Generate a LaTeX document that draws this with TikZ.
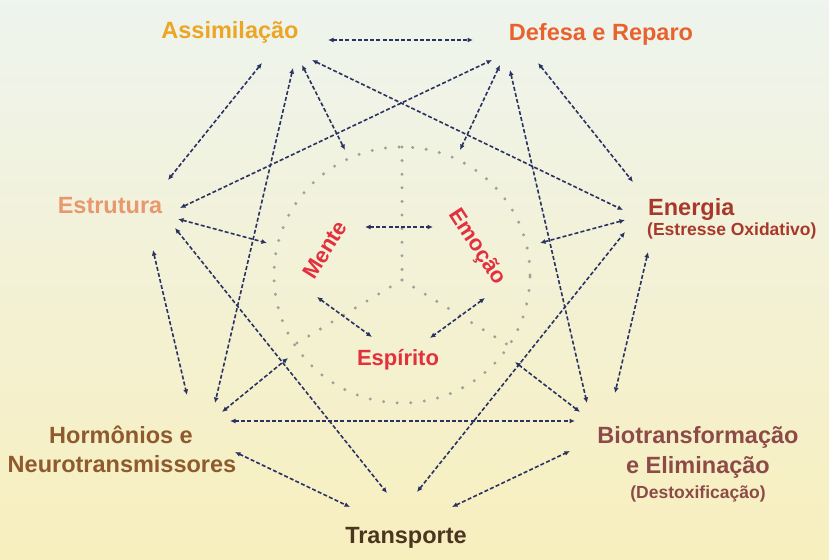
\documentclass[tikz,border=0pt]{standalone}
\usepackage{fontspec}
\setmainfont{Liberation Sans}
\usetikzlibrary{arrows.meta}
\definecolor{bgtop}{HTML}{EEF4EE}
\definecolor{bgmid}{HTML}{F2F3DE}
\definecolor{bgbot}{HTML}{F8EFBE}
\definecolor{navy}{HTML}{2A3262}
\definecolor{dotgray}{HTML}{9EA09A}
\definecolor{cA}{HTML}{EBA626}
\definecolor{cD}{HTML}{E8622F}
\definecolor{cS}{HTML}{E8986E}
\definecolor{cE}{HTML}{A8392A}
\definecolor{cH}{HTML}{8E5A2E}
\definecolor{cT}{HTML}{4A3620}
\definecolor{cB}{HTML}{8C4B48}
\definecolor{cIn}{HTML}{E2303E}
\begin{document}
\begin{tikzpicture}[x=1pt,y=-1pt,
  conn/.style={draw=navy, line width=1.6pt, dash pattern=on 4pt off 2.2pt,
    {Latex[length=5.5pt,width=5pt]}-{Latex[length=5.5pt,width=5pt]}},
  dots/.style={draw=dotgray, line width=3.3pt, line cap=round, dash pattern=on 0pt off 13.6pt},
  big/.style={font=\bfseries\fontsize{23.5}{26}\selectfont, anchor=base, inner sep=0pt},
  small/.style={font=\bfseries\fontsize{17.5}{20}\selectfont, anchor=base, inner sep=0pt},
  inner/.style={font=\bfseries\fontsize{22}{24}\selectfont, text=cIn, inner sep=0pt}]
\useasboundingbox (0,0) rectangle (829,559);
\shade[top color=bgtop, middle color=bgmid, bottom color=bgbot] (0,0) rectangle (829,559);

% dotted ring and Y
\node[circle, minimum size=256pt, inner sep=0pt, dots] (ring) at (402,275) {};
\coordinate (yc) at (402,280);
\coordinate (ytop) at (402,147);
\coordinate (yl) at (292,346);
\coordinate (yr) at (513,348);
\draw[dots] (ytop) -- (yc);
\draw[dots] (yc) -- (yl);
\draw[dots] (yc) -- (yr);

% labels
\node[big, text=cA] (A) at (230,39) {Assimilação};
\node[big, text=cD] (D) at (601,41) {Defesa e Reparo};
\node[big, text=cS] (S) at (110,213) {Estrutura};
\node[big, text=cE, anchor=base west] (E) at (648,215) {Energia};
\node[small, text=cE, anchor=base west] (E2) at (647,235) {(Estresse Oxidativo)};
\node[big, text=cH] (H) at (121,443) {Hormônios e};
\node[big, text=cH] (H2) at (122,472) {Neurotransmissores};
\node[big, text=cT] (T) at (406,543) {Transporte};
\node[big, text=cB] (B) at (698,443) {Biotransformação};
\node[big, text=cB] (B2) at (698,473) {e Eliminação};
\node[small, text=cB] (B3) at (698,498) {(Destoxificação)};
\node[inner, rotate=58] (Mn) at (325,250) {Mente};
\node[inner, rotate=-57] (Em) at (477,247) {Emoção};
\node[inner, anchor=base] (Es) at (398,365) {Espírito};

% connector ends
\coordinate (A1) at (328,40);  \coordinate (D1) at (473,40);
\coordinate (A2) at (262,63);  \coordinate (S1) at (168,180);
\coordinate (A3) at (293,68);  \coordinate (H1) at (215,403);
\coordinate (A4) at (302,65);  \coordinate (cA) at (345,150);
\coordinate (A5) at (312,60);  \coordinate (E1) at (623,210);
\coordinate (S2) at (180,208); \coordinate (D2) at (492,60);
\coordinate (S3) at (178,219); \coordinate (cS) at (267,243);
\coordinate (S4) at (175,228); \coordinate (T1) at (387,493);
\coordinate (S5) at (153,250); \coordinate (H2p) at (187,395);
\coordinate (H3) at (222,412); \coordinate (cH) at (288,358);
\coordinate (H4) at (230,421); \coordinate (B1) at (575,421);
\coordinate (H5) at (235,452); \coordinate (T2) at (350,507);
\coordinate (T3) at (452,507); \coordinate (B2p) at (570,451);
\coordinate (T4) at (417,492); \coordinate (E2p) at (625,232);
\coordinate (D3) at (500,65);  \coordinate (cD) at (460,150);
\coordinate (D4) at (510,70);  \coordinate (B3p) at (587,403);
\coordinate (D5) at (538,63);  \coordinate (E3) at (633,182);
\coordinate (E4) at (625,220); \coordinate (cE) at (540,243);
\coordinate (E5) at (648,252); \coordinate (B4) at (615,393);
\coordinate (B5) at (580,412); \coordinate (cB) at (515,362);
\coordinate (m1) at (365,227); \coordinate (e1) at (433,227);
\coordinate (m2) at (317,297); \coordinate (s1) at (372,337);
\coordinate (e2) at (485,298); \coordinate (s2) at (430,338);

\draw[conn] (A1) -- (D1);
\draw[conn] (A2) -- (S1);
\draw[conn] (A3) -- (H1);
\draw[conn] (A4) -- (cA);
\draw[conn] (A5) -- (E1);
\draw[conn] (S2) -- (D2);
\draw[conn] (S3) -- (cS);
\draw[conn] (S4) -- (T1);
\draw[conn] (S5) -- (H2p);
\draw[conn] (H3) -- (cH);
\draw[conn] (H4) -- (B1);
\draw[conn] (H5) -- (T2);
\draw[conn] (T3) -- (B2p);
\draw[conn] (T4) -- (E2p);
\draw[conn] (D3) -- (cD);
\draw[conn] (D4) -- (B3p);
\draw[conn] (D5) -- (E3);
\draw[conn] (E4) -- (cE);
\draw[conn] (E5) -- (B4);
\draw[conn] (B5) -- (cB);
\draw[conn] (m1) -- (e1);
\draw[conn] (m2) -- (s1);
\draw[conn] (e2) -- (s2);
\end{tikzpicture}
\end{document}
